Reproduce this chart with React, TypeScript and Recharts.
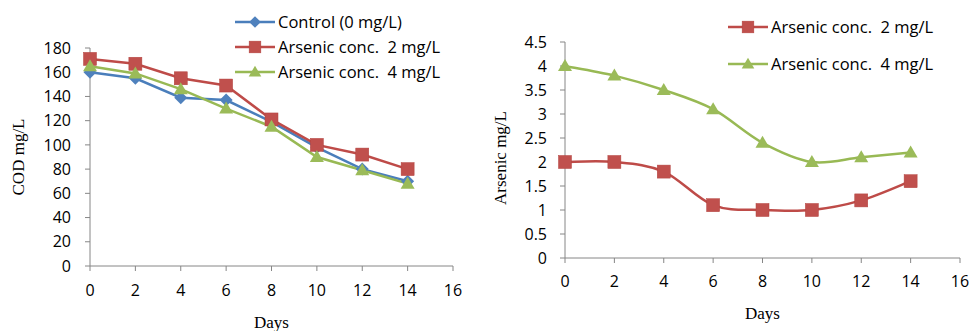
import React from 'react';
import { LineChart, Line, XAxis, YAxis, Legend } from 'recharts';

const days = [0, 2, 4, 6, 8, 10, 12, 14];
const codControl = [160, 155, 139, 137, 119, 98, 80, 70];
const cod2 = [171, 167, 155, 149, 121, 100, 92, 80];
const cod4 = [165, 159, 146, 130, 115, 90, 79, 68];
const arsenic2 = [2, 2, 1.8, 1.1, 1, 1, 1.2, 1.6];
const arsenic4 = [4, 3.8, 3.5, 3.1, 2.4, 2, 2.1, 2.2];
const dayTicks = [0, 2, 4, 6, 8, 10, 12, 14, 16];
const codTicks = [0, 20, 40, 60, 80, 100, 120, 140, 160, 180];
const arsenicTicks = [0, 0.5, 1, 1.5, 2, 2.5, 3, 3.5, 4, 4.5];

const names = {
  control: 'Control (0 mg/L)',
  a2: 'Arsenic conc.  2 mg/L',
  a4: 'Arsenic conc.  4 mg/L',
};

const codData = days.map((d, i) => ({ day: d, control: codControl[i], a2: cod2[i], a4: cod4[i] }));
const arsenicData = days.map((d, i) => ({ day: d, a2: arsenic2[i], a4: arsenic4[i] }));

const COLORS = {
  control: { line: '#4A7EBB', fill: '#4F81BD' },
  a2: { line: '#BE4B48', fill: '#C0504D' },
  a4: { line: '#98B954', fill: '#9BBB59' },
};

const SANS = '"Open Sans", Calibri, sans-serif';
const SERIF = '"Liberation Serif", "Times New Roman", serif';
const AXIS = '#868686';

function Marker({ shape, cx, cy, fill, s = 1 }: any) {
  if (cx == null || cy == null) return null;
  if (shape === 'diamond') {
    const r = 6.5 * s;
    return <polygon points={`${cx},${cy - r} ${cx + r},${cy} ${cx},${cy + r} ${cx - r},${cy}`} fill={fill} />;
  }
  if (shape === 'square') {
    const h = 6.5 * s;
    return <rect x={cx - h} y={cy - h} width={2 * h} height={2 * h} fill={fill} stroke="#B3433F" strokeWidth={0.5} />;
  }
  const w = 7 * s;
  return <polygon points={`${cx},${cy - 7 * s} ${cx + w},${cy + 5 * s} ${cx - w},${cy + 5 * s}`} fill={fill} />;
}

const dotFor = (shape: string, fill: string) => (props: any) => (
  <Marker key={`${shape}-${props.index}`} shape={shape} cx={props.cx} cy={props.cy} fill={fill} />
);

function excelSmooth(context: any) {
  let pts: number[][] = [];
  return {
    areaStart() {},
    areaEnd() {},
    lineStart() {
      pts = [];
    },
    point(x: number, y: number) {
      pts.push([+x, +y]);
    },
    lineEnd() {
      const n = pts.length;
      if (!n) return;
      context.moveTo(pts[0][0], pts[0][1]);
      for (let i = 0; i < n - 1; i++) {
        const p0 = pts[Math.max(i - 1, 0)];
        const p1 = pts[i];
        const p2 = pts[i + 1];
        const p3 = pts[Math.min(i + 2, n - 1)];
        context.bezierCurveTo(
          p1[0] + (p2[0] - p0[0]) / 6,
          p1[1] + (p2[1] - p0[1]) / 6,
          p2[0] - (p3[0] - p1[0]) / 6,
          p2[1] - (p3[1] - p1[1]) / 6,
          p2[0],
          p2[1]
        );
      }
    },
  };
}

const makeLegend = (items: { key: string; shape: string }[], rowH: number) => () => (
  <div style={{ fontFamily: SANS, fontSize: 16.5, color: '#000' }}>
    {items.map((it) => {
      const c = (COLORS as any)[it.key];
      return (
        <div key={it.key} style={{ height: rowH, display: 'flex', alignItems: 'center', whiteSpace: 'pre' }}>
          <svg width={42} height={16} style={{ display: 'block' }}>
            <line x1={0} y1={8} x2={40} y2={8} stroke={c.line} strokeWidth={2.5} />
            <Marker shape={it.shape} cx={20} cy={8} fill={c.fill} s={0.9} />
          </svg>
          <span style={{ marginLeft: 1 }}>{(names as any)[it.key]}</span>
        </div>
      );
    })}
  </div>
);

const yTitle = (text: string, dx: number, dy: number) => (props: any) => {
  const vb = props.viewBox;
  const cx = vb.x + dx;
  const cy = vb.y + vb.height / 2 + dy;
  return (
    <text x={cx} y={cy} transform={`rotate(-90 ${cx} ${cy})`} textAnchor="middle" dominantBaseline="central" fontFamily={SERIF} fontSize={17} fill="#000">
      {text}
    </text>
  );
};

const xTitle = (text: string, baselineFromTop: number) => (props: any) => {
  const vb = props.viewBox;
  return (
    <text x={vb.x + vb.width / 2} y={vb.y + baselineFromTop} textAnchor="middle" fontFamily={SERIF} fontSize={17} fill="#000">
      {text}
    </text>
  );
};

const tickStyle = { fill: '#000', fontSize: 16, fontFamily: SANS };

export default function App() {
  return (
    <div style={{ position: 'absolute', left: 0, top: 0, width: 971, height: 331, background: '#fff' }}>
      <div style={{ position: 'absolute', left: 0, top: 0 }}>
        <LineChart width={480} height={331} data={codData} margin={{ top: 48, right: 27, bottom: 0, left: 0 }}>
          <XAxis
            dataKey="day"
            type="number"
            domain={[0, 16]}
            ticks={dayTicks}
            interval={0}
            height={65}
            stroke={AXIS}
            tickLine={{ stroke: AXIS }}
            tickSize={5}
            tickMargin={14}
            tick={tickStyle}
            label={{ content: xTitle('Days', 62) }}
          />
          <YAxis
            type="number"
            domain={[0, 180]}
            ticks={codTicks}
            interval={0}
            width={90}
            stroke={AXIS}
            tickLine={{ stroke: AXIS }}
            tickSize={5}
            tickMargin={14}
            tick={tickStyle}
            label={{ content: yTitle('COD mg/L', 18, 0) }}
          />
          <Legend
            layout="vertical"
            align="center"
            verticalAlign="middle"
            wrapperStyle={{ position: 'absolute', left: 235, top: 9, width: 'auto' }}
            content={makeLegend(
              [
                { key: 'control', shape: 'diamond' },
                { key: 'a2', shape: 'square' },
                { key: 'a4', shape: 'triangle' },
              ],
              25
            )}
          />
          <Line dataKey="control" name={names.control} type="linear" stroke={COLORS.control.line} strokeWidth={2.5} dot={dotFor('diamond', COLORS.control.fill)} activeDot={false} isAnimationActive={false} />
          <Line dataKey="a2" name={names.a2} type="linear" stroke={COLORS.a2.line} strokeWidth={2.5} dot={dotFor('square', COLORS.a2.fill)} activeDot={false} isAnimationActive={false} />
          <Line dataKey="a4" name={names.a4} type="linear" stroke={COLORS.a4.line} strokeWidth={2.5} dot={dotFor('triangle', COLORS.a4.fill)} activeDot={false} isAnimationActive={false} />
        </LineChart>
      </div>
      <div style={{ position: 'absolute', left: 480, top: 0 }}>
        <LineChart width={491} height={331} data={arsenicData} margin={{ top: 42, right: 11, bottom: 0, left: 0 }}>
          <XAxis
            dataKey="day"
            type="number"
            domain={[0, 16]}
            ticks={dayTicks}
            interval={0}
            height={73}
            stroke={AXIS}
            tickLine={{ stroke: AXIS }}
            tickSize={5}
            tickMargin={13}
            tick={tickStyle}
            label={{ content: xTitle('Days', 61) }}
          />
          <YAxis
            type="number"
            domain={[0, 4.5]}
            ticks={arsenicTicks}
            interval={0}
            width={85}
            stroke={AXIS}
            tickLine={{ stroke: AXIS }}
            tickSize={5}
            tickMargin={13}
            tick={tickStyle}
            label={{ content: yTitle('Arsenic mg/L', 20, 8) }}
          />
          <Legend
            layout="vertical"
            align="center"
            verticalAlign="middle"
            wrapperStyle={{ position: 'absolute', left: 248, top: 8, width: 'auto' }}
            content={makeLegend(
              [
                { key: 'a2', shape: 'square' },
                { key: 'a4', shape: 'triangle' },
              ],
              37
            )}
          />
          <Line dataKey="a2" name={names.a2} type={excelSmooth as any} stroke={COLORS.a2.line} strokeWidth={2.5} dot={dotFor('square', COLORS.a2.fill)} activeDot={false} isAnimationActive={false} />
          <Line dataKey="a4" name={names.a4} type={excelSmooth as any} stroke={COLORS.a4.line} strokeWidth={2.5} dot={dotFor('triangle', COLORS.a4.fill)} activeDot={false} isAnimationActive={false} />
        </LineChart>
      </div>
    </div>
  );
}
